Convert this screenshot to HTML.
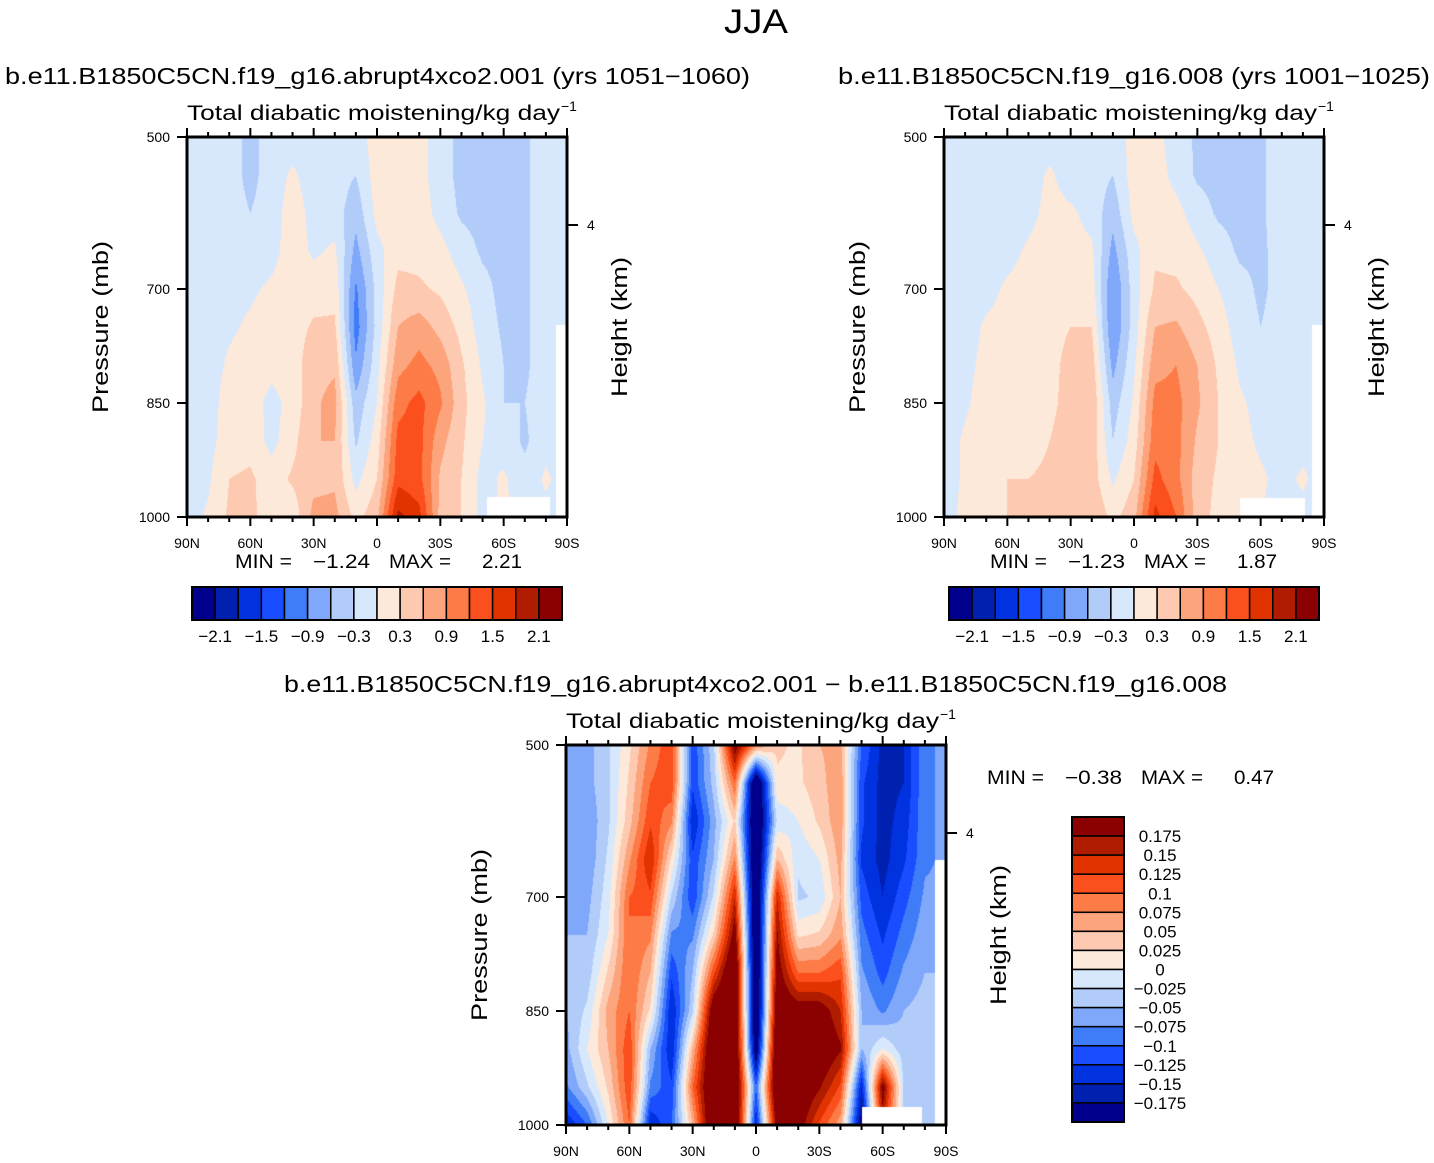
<!DOCTYPE html>
<html><head><meta charset="utf-8">
<style>
html,body{margin:0;padding:0;background:#fff;}
#wrap{position:relative;width:1434px;height:1163px;overflow:hidden;font-family:"Liberation Sans",sans-serif;}
canvas{position:absolute;}
svg{position:absolute;left:0;top:0;}
text{font-family:"Liberation Sans",sans-serif;fill:#000;}
</style></head>
<body>
<div id="wrap">
<canvas id="c1" width="380" height="380" style="left:187px;top:137px"></canvas>
<canvas id="c2" width="380" height="380" style="left:944px;top:137px"></canvas>
<canvas id="c3" width="380" height="380" style="left:566px;top:745px"></canvas>
<svg id="s" width="1434" height="1163"></svg>
</div>
<script>
// ---- data ----
const lats = [90,80,70,60,50,40,30,20,10,0,-10,-20,-30,-40,-50,-60,-70,-80,-90];
const levels = [500,550,600,650,700,750,800,850,900,950,1000];
const latTicks = ["90N","60N","30N","0","30S","60S","90S"];
const presTicks = [500,700,850,1000];
const fieldA = [
[-0.15,-0.15,-0.15,-0.4,-0.15,-0.15,-0.15,-0.15,-0.15,0.15,0.15,0.1,-0.15,-0.4,-0.4,-0.4,-0.35,-0.15,-0.15],
[-0.15,-0.15,-0.15,-0.4,-0.15,0.05,-0.15,-0.15,-0.3,0.15,0.15,0.1,-0.15,-0.4,-0.4,-0.4,-0.35,-0.15,-0.15],
[-0.15,-0.15,-0.15,-0.3,-0.15,0.15,-0.1,-0.15,-0.5,0.1,0.15,0.15,-0.1,-0.35,-0.4,-0.4,-0.35,-0.15,-0.15],
[-0.15,-0.15,-0.15,-0.15,-0.1,0.15,-0.05,0.05,-0.7,-0.1,0.2,0.2,0.1,-0.15,-0.35,-0.4,-0.35,-0.15,-0.15],
[-0.15,-0.15,-0.1,-0.05,0.05,0.15,0.15,0.2,-0.95,-0.2,0.4,0.35,0.25,0.05,-0.2,-0.4,-0.35,-0.15,-0.15],
[-0.15,-0.15,-0.05,0.05,0.15,0.15,0.35,0.35,-1.05,-0.2,0.6,0.75,0.5,0.2,-0.15,-0.35,-0.35,-0.15,-0.15],
[-0.15,-0.15,0.05,0.15,0.1,0.15,0.5,0.55,-0.85,-0.1,0.8,1.0,0.8,0.35,-0.05,-0.3,-0.35,-0.15,-0.15],
[-0.15,-0.15,0.15,0.15,-0.1,0.1,0.55,0.7,-0.5,0.0,1.1,1.3,0.95,0.4,0.05,-0.3,-0.3,-0.15,-0.15],
[-0.15,-0.1,0.15,0.2,-0.1,0.2,0.6,0.6,-0.35,0.15,1.3,1.3,0.7,0.35,0.0,-0.15,-0.35,-0.1,-0.15],
[-0.15,-0.05,0.3,0.35,0.15,0.35,0.5,0.55,-0.1,0.3,1.4,1.3,0.55,0.3,-0.1,0.05,-0.2,0.05,-0.15],
[-0.15,0.05,0.35,0.35,0.2,0.1,0.7,0.7,0.2,0.5,1.9,1.6,0.5,0.3,-0.1,0.05,-0.1,-0.1,-0.15]];
const fieldB = [
[-0.15,-0.15,-0.15,-0.15,-0.3,-0.15,-0.15,-0.15,-0.15,0.1,0.1,-0.15,-0.35,-0.4,-0.4,-0.35,-0.15,-0.15,-0.15],
[-0.15,-0.15,-0.15,-0.15,-0.15,0.05,-0.15,-0.15,-0.3,0.15,0.15,-0.1,-0.35,-0.4,-0.4,-0.35,-0.15,-0.15,-0.15],
[-0.15,-0.15,-0.15,-0.15,-0.1,0.1,0.05,-0.1,-0.5,0.1,0.15,0.1,-0.15,-0.35,-0.4,-0.35,-0.15,-0.15,-0.15],
[-0.15,-0.15,-0.15,-0.1,0.05,0.15,0.1,0.05,-0.7,-0.1,0.25,0.2,0.05,-0.15,-0.35,-0.35,-0.2,-0.15,-0.15],
[-0.15,-0.15,-0.1,0.05,0.1,0.15,0.2,0.15,-0.9,-0.15,0.35,0.35,0.2,0.0,-0.2,-0.35,-0.2,-0.15,-0.15],
[-0.15,-0.15,0.05,0.1,0.15,0.2,0.3,0.3,-0.9,-0.15,0.6,0.65,0.4,0.15,-0.15,-0.3,-0.2,-0.15,-0.15],
[-0.15,-0.1,0.1,0.15,0.15,0.2,0.4,0.45,-0.7,-0.05,0.8,0.9,0.6,0.25,-0.05,-0.25,-0.2,-0.15,-0.15],
[-0.15,-0.05,0.15,0.2,0.15,0.2,0.45,0.55,-0.45,0.05,1.0,1.0,0.65,0.3,0.05,-0.1,-0.2,-0.1,-0.15],
[-0.15,0.05,0.2,0.2,0.2,0.3,0.5,0.5,-0.3,0.15,1.1,1.0,0.55,0.3,0.1,-0.05,-0.15,-0.1,-0.15],
[-0.15,0.05,0.25,0.3,0.3,0.35,0.5,0.45,-0.05,0.3,1.3,1.0,0.45,0.25,0.1,0.05,-0.1,0.05,-0.15],
[-0.15,0.1,0.3,0.3,0.3,0.35,0.6,0.6,0.2,0.5,1.6,1.2,0.45,0.2,0.05,0.0,-0.1,-0.1,-0.15]];
const fieldD = [
[-0.05,-0.06,-0.03,0.02,0.08,0.12,-0.12,-0.03,0.2,0.08,0.03,0.02,0.05,0.06,-0.1,-0.16,-0.15,-0.08,-0.07],
[-0.05,-0.06,-0.03,0.03,0.1,0.12,-0.12,-0.04,0.1,-0.25,0.02,0.02,0.04,0.07,-0.12,-0.16,-0.15,-0.08,-0.07],
[-0.06,-0.07,-0.03,0.04,0.12,0.08,-0.15,-0.06,0.03,-0.25,-0.02,0.0,0.03,0.07,-0.12,-0.16,-0.14,-0.08,-0.07],
[-0.06,-0.07,-0.02,0.07,0.15,0.02,-0.12,-0.05,0.08,-0.25,0.05,-0.02,0.0,0.06,-0.13,-0.16,-0.13,-0.08,-0.07],
[-0.06,-0.06,-0.01,0.1,0.12,-0.03,-0.12,-0.02,0.15,-0.25,0.15,-0.03,-0.02,0.05,-0.11,-0.15,-0.11,-0.07,-0.07],
[-0.05,-0.05,0.0,0.1,0.08,-0.08,-0.08,0.03,0.2,-0.25,0.18,0.02,0.03,0.07,-0.09,-0.13,-0.09,-0.06,-0.06],
[-0.05,-0.04,0.03,0.1,0.05,-0.12,-0.05,0.12,0.25,-0.25,0.2,0.1,0.1,0.12,-0.07,-0.11,-0.07,-0.05,-0.05],
[-0.05,-0.02,0.06,0.1,0.02,-0.15,-0.03,0.22,0.25,-0.25,0.22,0.2,0.2,0.15,-0.05,-0.08,-0.05,-0.04,-0.04],
[-0.06,0.0,0.05,0.12,-0.05,-0.15,0.05,0.25,0.25,-0.22,0.25,0.22,0.22,0.18,-0.05,0.0,-0.04,-0.03,-0.03],
[-0.08,-0.03,0.03,0.12,-0.08,-0.12,0.1,0.25,0.25,-0.1,0.25,0.22,0.18,0.12,-0.15,0.2,-0.03,-0.03,-0.03],
[-0.15,-0.1,0.0,0.1,-0.15,-0.1,0.05,0.25,0.25,-0.15,0.2,0.2,0.12,0.06,-0.2,0.15,-0.03,-0.03,-0.03]];
const contourA = [-2.1,-1.8,-1.5,-1.2,-0.9,-0.6,-0.3,0,0.3,0.6,0.9,1.2,1.5,1.8,2.1];
const contourD = [-0.175,-0.15,-0.125,-0.1,-0.075,-0.05,-0.025,0,0.025,0.05,0.075,0.1,0.125,0.15,0.175];
const labelsA = ["−2.1","−1.5","−0.9","−0.3","0.3","0.9","1.5","2.1"];
const labelsD = ["0.175","0.15","0.125","0.1","0.075","0.05","0.025","0","−0.025","−0.05","−0.075","−0.1","−0.125","−0.15","−0.175"];
const colors = ["#00008c","#0020b0","#0032e0","#1a4dff","#3f7cf8","#80a8fa","#b2ccfa","#d7e8fc","#fde9d9","#fdc9b0","#fca47c","#fc7b46","#fb4f1e","#e03300","#b01c00","#8b0000"];

// ---- drawing ----
const NS="http://www.w3.org/2000/svg";
const svg=document.getElementById('s');
function mk(tag,attrs,parent){const e=document.createElementNS(NS,tag);for(const k in attrs)e.setAttribute(k,attrs[k]);(parent||svg).appendChild(e);return e;}
function txt(str,x,y,size,opts,parent){const t=mk('text',Object.assign({x:x,y:y,'font-size':size},opts||{}),parent);t.textContent=str;return t;}
function hex(c){return [parseInt(c.slice(1,3),16),parseInt(c.slice(3,5),16),parseInt(c.slice(5,7),16)];}
const rgb=colors.map(hex);
function colorIdx(v,lev){let i=0;while(i<lev.length&&v>=lev[i])i++;return i;}

function drawField(id,field,lev,masks){
  const cv=document.getElementById(id),ctx=cv.getContext('2d');
  const W=380,H=380,img=ctx.createImageData(W,H);
  const nc=lats.length,nr=levels.length;
  for(let py=0;py<H;py++){
    const p=500+500*(py+0.5)/H;
    let fr=(p-levels[0])/(levels[1]-levels[0]);
    let r0=Math.min(nr-2,Math.floor(fr)),tr=fr-r0;
    for(let px=0;px<W;px++){
      const lat=90-180*(px+0.5)/W;
      let fc=(90-lat)/10;
      let c0=Math.min(nc-2,Math.floor(fc)),tc=fc-c0;
      const v=(field[r0][c0]*(1-tc)+field[r0][c0+1]*tc)*(1-tr)+(field[r0+1][c0]*(1-tc)+field[r0+1][c0+1]*tc)*tr;
      const col=rgb[colorIdx(v,lev)],k=(py*W+px)*4;
      img.data[k]=col[0];img.data[k+1]=col[1];img.data[k+2]=col[2];img.data[k+3]=255;
    }
  }
  ctx.putImageData(img,0,0);
  ctx.fillStyle='#fff';
  masks.forEach(m=>ctx.fillRect(m[0],m[1],m[2],m[3]));
}
drawField('c1',fieldA,contourA,[[300,360,63,20],[369,188,11,192]]);
drawField('c2',fieldB,contourA,[[296,361,65,19],[368,188,12,192]]);
drawField('c3',fieldD,contourD,[[296,362,60,18],[369,115,11,265]]);

function axes(x0,y0,name){
  const g=mk('g',{});
  const W=380,H=380;
  const xs=lat=>x0+(90-lat)/180*W, ys=p=>y0+(p-500)/500*H;
  mk('rect',{x:x0,y:y0,width:W,height:H,fill:'none',stroke:'#000','stroke-width':3},g);
  for(let l=90;l>=-90;l-=10){
    const x=xs(l),major=(l%30===0),len=major?9:5;
    mk('line',{x1:x,y1:y0,x2:x,y2:y0-len,stroke:'#000','stroke-width':2},g);
    mk('line',{x1:x,y1:y0+H,x2:x,y2:y0+H+len,stroke:'#000','stroke-width':2},g);
  }
  latTicks.forEach((s,i)=>{const t=txt(s,xs(90-30*i),y0+H+31,14,{'text-anchor':'middle'},g);
    });
  presTicks.forEach(p=>{
    mk('line',{x1:x0,y1:ys(p),x2:x0-10,y2:ys(p),stroke:'#000','stroke-width':2},g);
    const t=txt(String(p),x0-17,ys(p)+5,14,{'text-anchor':'end'},g);
    
  });
  mk('line',{x1:x0+W,y1:y0+88,x2:x0+W+11,y2:y0+88,stroke:'#000','stroke-width':2},g);
  txt("4",x0+W+20,y0+93,14,{},g);
  const py=txt("Pressure (mb)",0,0,22,{'text-anchor':'middle',transform:`translate(${x0-79},${y0+190}) rotate(-90)`,textLength:172,lengthAdjust:'spacingAndGlyphs'},g);
  
  const hy=txt("Height (km)",0,0,22,{'text-anchor':'middle',transform:`translate(${x0+W+60},${y0+190}) rotate(-90)`,textLength:140,lengthAdjust:'spacingAndGlyphs'},g);
  
  const st=txt("Total diabatic moistening/kg day",x0,y0-17,21,{textLength:373,lengthAdjust:'spacingAndGlyphs'},g);
  
  txt("−1",x0+374,y0-26,14,{},g);
}
axes(187,137,'panel-a');axes(944,137,'panel-b');axes(566,745,'panel-diff');

function hbar(x0,y0,name){
  const g=mk('g',{});
  const bw=370/16;
  colors.forEach((c,i)=>{const r=mk('rect',{x:x0+i*bw,y:y0,width:bw,height:33,fill:c,stroke:'#000','stroke-width':1.5},g);
    });
  mk('rect',{x:x0,y:y0,width:370,height:33,fill:'none',stroke:'#000','stroke-width':2},g);
  labelsA.forEach((s,i)=>{const t=txt(s,x0+bw*(1+2*i),y0+55,17,{'text-anchor':'middle'},g);
    });
}
hbar(192,587,'colorbar-a');hbar(949,587,'colorbar-b');

(function(){
  const g=mk('g',{});
  const x0=1072,y0=817,bh=305/16;
  for(let i=0;i<16;i++){const r=mk('rect',{x:x0,y:y0+i*bh,width:52,height:bh,fill:colors[15-i],stroke:'#000','stroke-width':1.5},g);
    }
  mk('rect',{x:x0,y:y0,width:52,height:305,fill:'none',stroke:'#000','stroke-width':2},g);
  labelsD.forEach((s,i)=>{const t=txt(s,1160,y0+bh*(i+1)+6,17,{'text-anchor':'middle'},g);
    });
})();

// titles
let t;
t=txt("JJA",756,33,34,{'text-anchor':'middle',textLength:64,lengthAdjust:'spacingAndGlyphs'});
t=txt("b.e11.B1850C5CN.f19_g16.abrupt4xco2.001 (yrs 1051−1060)",5,84,23,{textLength:745,lengthAdjust:'spacingAndGlyphs'});
t=txt("b.e11.B1850C5CN.f19_g16.008 (yrs 1001−1025)",838,84,23,{textLength:592,lengthAdjust:'spacingAndGlyphs'});
t=txt("b.e11.B1850C5CN.f19_g16.abrupt4xco2.001 − b.e11.B1850C5CN.f19_g16.008",284,692,23,{textLength:943,lengthAdjust:'spacingAndGlyphs'});

function minmax(x,y,mn,mx,name){
  const g=mk('g',{});
  txt("MIN =",x,y,19,{textLength:57,lengthAdjust:'spacingAndGlyphs'},g);
  txt(mn,x+78,y,19,{textLength:57,lengthAdjust:'spacingAndGlyphs'},g);
  txt("MAX =",x+154,y,19,{textLength:62,lengthAdjust:'spacingAndGlyphs'},g);
  txt(mx,x+247,y,19,{textLength:40,lengthAdjust:'spacingAndGlyphs'},g);
}
minmax(235,568,"−1.24","2.21",'minmax-a');
minmax(990,568,"−1.23","1.87",'minmax-b');
minmax(987,784,"−0.38","0.47",'minmax-diff');
</script>
</body></html>
